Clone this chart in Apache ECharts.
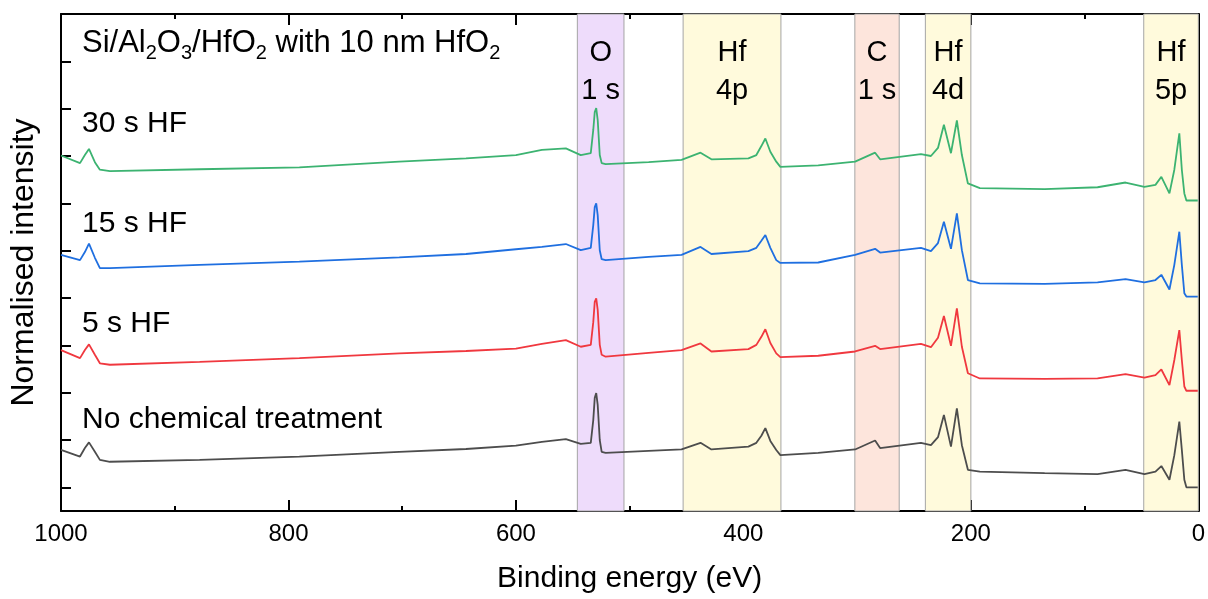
<!DOCTYPE html>
<html>
<head>
<meta charset="utf-8">
<script src="https://cdn.jsdelivr.net/npm/echarts@6/dist/echarts.min.js"></script>
<style>
html,body{margin:0;padding:0;background:#fff;}
#c{width:1208px;height:599px;}
</style>
</head>
<body>
<div id="c"></div>
<script>
// Binding energy (eV)
const energies = [1000, 983.3, 979.0, 975.4, 970.2, 965.8, 957.0, 878.1, 790.4, 702.6, 643.9, 600.0, 577.2, 556.1, 543.0, 534.2, 532.0, 530.7, 529.4, 528.1, 526.3, 524.6, 521.1, 483.3, 454.4, 437.7, 428.1, 395.6, 388.6, 384.2, 380.7, 376.3, 371.1, 367.5, 334.2, 301.8, 284.2, 279.8, 243.9, 235.1, 228.9, 223.7, 217.5, 212.3, 207.9, 202.6, 192.1, 135.1, 88.6, 64.0, 47.4, 37.7, 32.5, 25.4, 21.1, 16.7, 14.5, 12.3, 10.5, 0.5];
// Normalised intensity (offset stacked, arbitrary units)
const noTreatment = [1.29,1.15,1.33,1.45,1.25,1.08,1.04,1.08,1.15,1.25,1.31,1.38,1.46,1.52,1.42,1.44,1.92,2.39,2.49,2.24,1.50,1.25,1.23,1.27,1.30,1.44,1.30,1.36,1.44,1.59,1.75,1.48,1.29,1.18,1.23,1.30,1.49,1.33,1.44,1.39,1.56,2.03,1.36,2.17,1.39,0.87,0.83,0.80,0.78,0.87,0.78,0.83,0.95,0.66,1.18,1.89,1.29,0.66,0.50,0.50];
const hf5s = [3.40,3.23,3.40,3.52,3.30,3.12,3.09,3.15,3.23,3.33,3.38,3.43,3.53,3.61,3.47,3.51,3.99,4.42,4.49,4.25,3.51,3.30,3.26,3.34,3.40,3.54,3.37,3.42,3.51,3.68,3.84,3.55,3.33,3.25,3.28,3.37,3.49,3.42,3.53,3.46,3.66,4.12,3.49,4.28,3.47,2.91,2.80,2.79,2.80,2.89,2.82,2.87,2.99,2.66,3.19,3.82,3.19,2.63,2.54,2.54];
const hf15s = [5.41,5.30,5.47,5.65,5.35,5.13,5.13,5.20,5.27,5.36,5.43,5.53,5.58,5.64,5.51,5.56,6.04,6.42,6.50,6.25,5.51,5.32,5.30,5.37,5.41,5.58,5.43,5.49,5.56,5.71,5.83,5.56,5.30,5.24,5.25,5.41,5.54,5.46,5.56,5.49,5.66,6.11,5.54,6.29,5.51,4.88,4.81,4.80,4.83,4.90,4.83,4.88,4.99,4.68,5.20,5.90,5.20,4.60,4.53,4.53];
const hf30s = [7.51,7.35,7.52,7.65,7.37,7.21,7.18,7.22,7.26,7.38,7.45,7.52,7.63,7.66,7.52,7.56,8.05,8.43,8.51,8.26,7.52,7.35,7.33,7.37,7.42,7.57,7.43,7.45,7.52,7.71,7.87,7.59,7.38,7.27,7.30,7.38,7.57,7.43,7.54,7.50,7.67,8.16,7.56,8.25,7.52,6.92,6.82,6.80,6.84,6.94,6.85,6.89,7.06,6.71,7.21,7.98,7.21,6.71,6.56,6.56];
const seriesNames = ['No chemical treatment', '5 s HF', '15 s HF', '30 s HF'];
// Shaded core-level regions (eV)
const bandRanges = [[546, 505], [453, 367], [302, 263], [240, 200], [48, 0]];
const bandLabels = ['O\n1 s', 'Hf\n4p', 'C\n1 s', 'Hf\n4d', 'Hf\n5p'];
const yTicks = [0.5, 1.5, 2.5, 3.5, 4.5, 5.5, 6.5, 7.5, 8.5, 9.5];
const xTicks = [0, 200, 400, 600, 800, 1000];

const FONT = '"Liberation Sans", Arial, sans-serif';
const lineColors = ['#4d4d4d', '#f0383f', '#1f6fe0', '#3cb371'];
const bandColors = ['#eedcfb', '#fffadc', '#fde5dc', '#fffadc', '#fffadc'];

const chart = echarts.init(document.getElementById('c'), null, {renderer: 'canvas'});

const seriesValues = [noTreatment, hf5s, hf15s, hf30s];
const lineSeries = seriesValues.map((vals, i) => ({
  name: seriesNames[i],
  type: 'line',
  data: energies.map((e, k) => [e, vals[k]]),
  showSymbol: false,
  symbol: 'none',
  lineStyle: {color: lineColors[i], width: 1.8},
  itemStyle: {color: lineColors[i]},
  z: 3,
  animation: false
}));

const bandSeries = {
  type: 'line',
  data: [],
  z: 1,
  silent: true,
  animation: false,
  markArea: {
    silent: true,
    label: {
      show: true, position: 'insideTop', distance: 20,
      fontFamily: FONT, fontSize: 29, lineHeight: 38, color: '#000'
    },
    data: bandRanges.map((r, i) => [
      {xAxis: r[0], name: bandLabels[i], itemStyle: {color: bandColors[i], borderColor: '#a5a5a5', borderWidth: 1}},
      {xAxis: r[1]}
    ])
  }
};

const xAxisBase = {
  type: 'value', min: 0, max: 1000, interval: 200, inverse: true,
  axisLine: {show: true, onZero: false, lineStyle: {color: '#000', width: 2}},
  axisTick: {show: true, inside: true, length: 11, lineStyle: {color: '#000', width: 2}},
  minorTick: {show: true, splitNumber: 2, length: 5, lineStyle: {color: '#000', width: 2}},
  splitLine: {show: false}
};
const yAxisBase = {
  type: 'value', min: 0, max: 10.5,
  axisLine: {show: true, onZero: false, lineStyle: {color: '#000', width: 2}},
  axisTick: {show: true, inside: true, length: 10, customValues: yTicks, lineStyle: {color: '#000', width: 2}},
  axisLabel: {show: false},
  splitLine: {show: false}
};

const titleStyle = {fontFamily: FONT, fontSize: 30, fontWeight: 'normal', color: '#000', lineHeight: 30};

chart.setOption({
  animation: false,
  backgroundColor: '#fff',
  grid: {left: 61, right: 7, top: 14, bottom: 88, containLabel: false},
  title: [
    {text: 'Si/Al{s|2}O{s|3}/HfO{s|2} with 10 nm HfO{s|2}', left: 82, top: 28, padding: 0,
      textStyle: Object.assign({}, titleStyle, {fontSize: 31, rich: {s: {fontFamily: FONT, fontSize: 20, lineHeight: 20, padding: [21, 0, 0, 0], color: '#000'}}})},
    {text: seriesNames[3], left: 82, top: 109, padding: 0, textStyle: titleStyle},
    {text: seriesNames[2], left: 82, top: 209, padding: 0, textStyle: titleStyle},
    {text: seriesNames[1], left: 82, top: 309, padding: 0, textStyle: titleStyle},
    {text: seriesNames[0], left: 82, top: 405, padding: 0, textStyle: titleStyle}
  ],
  xAxis: [
    Object.assign({}, xAxisBase, {
      position: 'bottom',
      name: 'Binding energy (eV)', nameLocation: 'middle', nameGap: 53,
      nameTextStyle: {fontFamily: FONT, fontSize: 30, color: '#000'},
      axisLabel: {show: true, margin: 11, fontFamily: FONT, fontSize: 24, color: '#000',
        customValues: xTicks, formatter: v => String(v)}
    }),
    Object.assign({}, xAxisBase, {position: 'top', axisLabel: {show: false}})
  ],
  yAxis: [
    Object.assign({}, yAxisBase, {
      position: 'left',
      name: 'Normalised intensity', nameLocation: 'middle', nameGap: 21,
      nameTextStyle: {fontFamily: FONT, fontSize: 32, color: '#000'}
    }),
    Object.assign({}, yAxisBase, {position: 'right'})
  ],
  series: [bandSeries].concat(lineSeries)
});
</script>
</body>
</html>
